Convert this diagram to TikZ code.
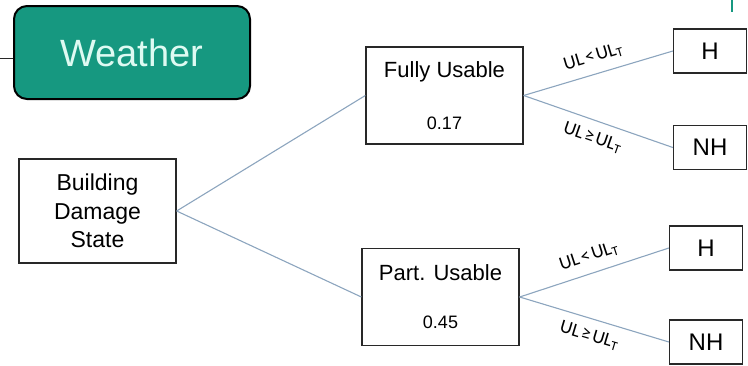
\documentclass[tikz,border=0pt]{standalone}
\usepackage{fontspec}
\setmainfont{Liberation Sans}
\newfontfamily\labelfont{Carlito}
\usetikzlibrary{positioning,calc}
\definecolor{weatherteal}{RGB}{22,152,128}
\definecolor{weathertext}{RGB}{222,250,242}
\definecolor{branchblue}{RGB}{140,165,190}
\definecolor{boxgray}{RGB}{40,40,40}
\tikzset{
  x=1pt, y=-1pt,
  state/.style   = {draw=boxgray, line width=1.3pt, rectangle, align=center, inner sep=0pt},
  outcome/.style = {state, minimum width=73pt, minimum height=44pt, font=\fontsize{24}{28}\selectfont},
  usable/.style  = {state, minimum width=157pt, minimum height=97pt},
  branch/.style  = {draw=branchblue, line width=1.1pt},
  cond/.style    = {sloped, font=\labelfont\fontsize{19}{20}\selectfont, inner sep=1pt}
}
\newcommand{\ulless}{UL\kern2pt<\kern2ptUL\textsubscript{T}}
\newcommand{\ulgeq}{UL\kern2pt≥\kern2ptUL\textsubscript{T}}

\begin{document}
\begin{tikzpicture}
  \useasboundingbox (0,0) rectangle (748,365);
  % weather box and its stub line
  \node[draw=black, line width=2pt, fill=weatherteal, rounded corners=13pt,
        minimum width=236pt, minimum height=93pt, text=weathertext,
        font=\fontsize{38}{40}\selectfont] (weather) at (132,52.5) {\raisebox{-4pt}{Weather}};
  \coordinate (wstub) at (0,58);
  \draw[boxgray, line width=1pt] (wstub) -- (wstub -| weather.west);
  \coordinate (mtop) at (732,0);
  \draw[weatherteal, line width=2pt] (mtop) -- ++(0,12);

  % damage state and usability
  \node[state, minimum width=157pt, minimum height=104pt,
        font=\fontsize{23}{28.5}\selectfont] (bds) at (97.5,211)
        {Building\\Damage\\State};
  \node[usable] (fully) at (444.5,95.5)
        {\fontsize{22}{26}\selectfont Fully Usable\\[34pt]\fontsize{18}{22}\selectfont 0.17};
  \node[usable] (part) at (440.5,297)
        {\fontsize{22}{26}\selectfont Part. Usable\\[34pt]\fontsize{18}{22}\selectfont 0.45};

  % habitability outcomes
  \node[outcome] (h1)  at (710,51)  {H};
  \node[outcome] (nh1) at (710,147.5) {NH};
  \node[outcome] (h2)  at (706,248) {H};
  \node[outcome] (nh2) at (706,342) {NH};

  % branches
  \draw[branch] (bds.east) -- (fully.west);
  \draw[branch] (bds.east) -- (part.west);
  \draw[branch] (fully.east) -- node[cond, above=8pt] {\ulless} (h1.west);
  \draw[branch] (fully.east) -- node[cond, below=8pt] {\ulgeq} (nh1.west);
  \draw[branch] (part.east) -- node[cond, above=8pt] {\ulless} (h2.west);
  \draw[branch] (part.east) -- node[cond, below=8pt] {\ulgeq} (nh2.west);
\end{tikzpicture}
\end{document}
